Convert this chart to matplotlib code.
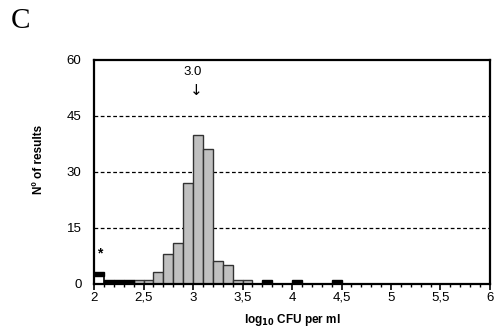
import numpy as np
import matplotlib
matplotlib.use('Agg')
import matplotlib.pyplot as plt
from matplotlib.ticker import MultipleLocator

plt.rcParams['font.family'] = ['Liberation Sans', 'DejaVu Sans']

# bin left edges (log10 CFU per ml), bin width 0.1
grey_bins = [2.4, 2.5, 2.6, 2.7, 2.8, 2.9, 3.0, 3.1, 3.2, 3.3, 3.4, 3.5]
grey_counts = [1, 1, 3, 8, 11, 27, 40, 36, 6, 5, 1, 1]

white_bins = [2.0]
white_counts = [2]

black_bins = [2.0, 2.1, 2.2, 2.3, 3.7, 4.0, 4.4]
black_counts = [1, 1, 1, 1, 1, 1, 1]
black_bottom = [2, 0, 0, 0, 0, 0, 0]

xticks = [2, 2.5, 3, 3.5, 4, 4.5, 5, 5.5, 6]
xticklabels = ['2', '2,5', '3', '3,5', '4', '4,5', '5', '5,5', '6']
yticks = [0, 15, 30, 45, 60]

fig = plt.figure(figsize=(4.94, 3.35), dpi=100)
ax = fig.add_axes([0.1903, 0.1537, 0.8016, 0.6672])

for y in [15, 30, 45]:
    ax.axhline(y, color='black', lw=0.9, ls=(0, (3, 2)), zorder=0)

ax.bar(grey_bins, grey_counts, width=0.1, align='edge', color='#c0c0c0',
       edgecolor='#333333', linewidth=1.0, zorder=2)
ax.bar(white_bins, white_counts, width=0.1, align='edge', color='white',
       edgecolor='black', linewidth=1.2, zorder=2)
ax.bar(black_bins, black_counts, width=0.1, align='edge', bottom=black_bottom,
       color='black', edgecolor='black', linewidth=1.0, zorder=3)

ax.set_xlim(2, 6)
ax.set_ylim(0, 60)
ax.set_xticks(xticks)
ax.set_xticklabels(xticklabels, fontsize=9.5)
ax.xaxis.set_minor_locator(MultipleLocator(0.1))
ax.set_yticks(yticks)
ax.set_yticklabels([str(v) for v in yticks], fontsize=9.5)
ax.tick_params(axis='x', which='major', direction='out', length=4, width=1.2, pad=2)
ax.tick_params(axis='x', which='minor', direction='out', length=2.5, width=1)
ax.tick_params(axis='y', length=0, pad=9)

for s in ax.spines.values():
    s.set_linewidth(1.6)

ax.text(3.0, 56.7, '3.0', ha='center', va='center', fontsize=9.5)
ax.text(3.03, 51.8, '\u2193', ha='center', va='center', fontsize=11,
        family=['DejaVu Sans'])
ax.text(2.055, 8.0, '*', ha='center', va='center', fontsize=10, fontweight='bold')

fig.text(0.079, 0.525, 'N\u00ba of results', rotation=90, ha='center', va='center',
         fontsize=8.5, fontweight='bold')
fig.text(0.591, 0.045, r'log$_{\mathbf{10}}$ CFU per ml', ha='center', va='center',
         fontsize=8.5, fontweight='bold')
fig.text(0.041, 0.938, 'C', ha='center', va='center', fontsize=21,
         family=['Liberation Serif'])

fig.savefig('out.png', dpi=100)
